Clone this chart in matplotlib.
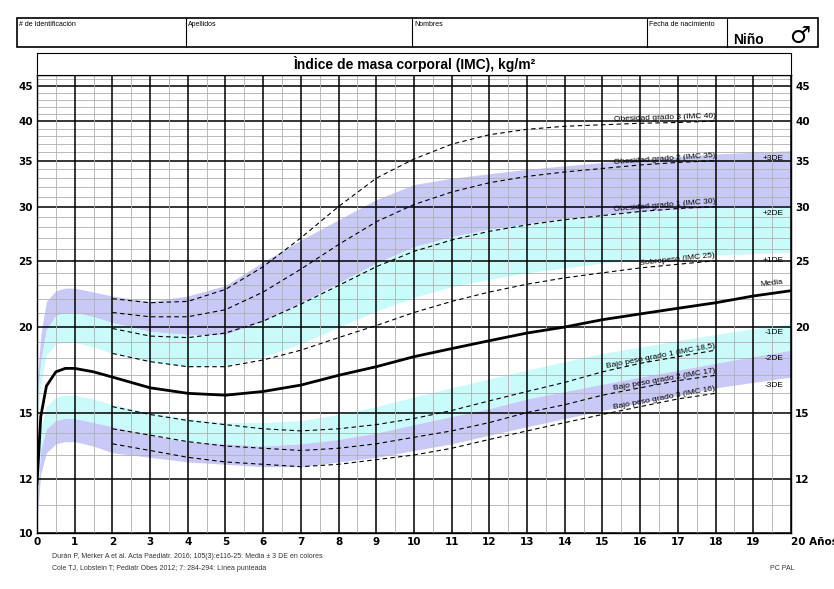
import numpy as np
import matplotlib
matplotlib.use("Agg")
import matplotlib.pyplot as plt
from matplotlib.patches import Rectangle
from matplotlib.ticker import NullFormatter, FixedLocator

# ---- data ----
ages = [0, 0.1, 0.25, 0.5, 0.75, 1, 1.5, 2, 3, 4, 5, 6, 7, 8, 9, 10, 11, 12, 13, 14, 15, 16, 17, 18, 19, 20]
median = [11.8, 14.8, 16.4, 17.2, 17.4, 17.4, 17.2, 16.9, 16.3, 16.0, 15.9, 16.1, 16.45, 17.0, 17.5, 18.1, 18.6, 19.1, 19.6, 20.0, 20.5, 20.9, 21.3, 21.7, 22.2, 22.6]
sd_p3 = [16.5, 19.5, 21.8, 22.6, 22.8, 22.8, 22.5, 22.2, 21.8, 22.2, 23.0, 24.9, 26.8, 28.7, 30.7, 32.3, 33.0, 33.5, 34.0, 34.4, 34.8, 35.2, 35.5, 35.8, 36.0, 36.2]
sd_p2 = [15.5, 17.8, 19.8, 20.8, 21.0, 21.0, 20.7, 20.3, 19.7, 19.5, 19.5, 20.4, 21.7, 23.2, 24.8, 26.2, 27.1, 27.8, 28.3, 28.8, 29.2, 29.5, 29.7, 29.9, 30.0, 30.1]
sd_p1 = [14.5, 16.5, 18.2, 18.9, 19.0, 19.0, 18.7, 18.3, 17.8, 17.5, 17.6, 18.1, 18.9, 20.0, 21.1, 22.1, 22.9, 23.5, 24.0, 24.4, 24.8, 25.1, 25.3, 25.5, 25.6, 25.7]
sd_m1 = [12.2, 14.2, 15.3, 15.8, 15.9, 15.9, 15.7, 15.4, 15.0, 14.7, 14.5, 14.5, 14.6, 14.9, 15.3, 15.8, 16.3, 16.8, 17.3, 17.8, 18.3, 18.7, 19.1, 19.5, 19.9, 20.2]
sd_m2 = [11.2, 13.2, 14.2, 14.6, 14.7, 14.7, 14.5, 14.3, 13.9, 13.6, 13.5, 13.4, 13.5, 13.7, 14.0, 14.4, 14.8, 15.2, 15.7, 16.1, 16.5, 16.9, 17.3, 17.7, 18.1, 18.5]
sd_m3 = [10.5, 12.2, 13.1, 13.5, 13.6, 13.6, 13.4, 13.1, 12.9, 12.7, 12.6, 12.5, 12.5, 12.7, 12.9, 13.2, 13.5, 13.9, 14.3, 14.7, 15.1, 15.5, 15.9, 16.3, 16.6, 16.9]

cole_ages = [2, 3, 4, 5, 6, 7, 8, 9, 10, 11, 12, 13, 14, 15, 16, 17, 18]
cole = {
    "Obesidad grado 3 (IMC 40)": [22.0, 21.7, 21.8, 22.7, 24.5, 27.0, 30.0, 33.0, 35.2, 37.0, 38.2, 38.9, 39.3, 39.5, 39.7, 39.8, 40.0],
    "Obesidad grado 2 (IMC 35)": [21.0, 20.7, 20.7, 21.2, 22.5, 24.3, 26.4, 28.5, 30.2, 31.5, 32.5, 33.2, 33.7, 34.1, 34.5, 34.8, 35.0],
    "Obesidad grado 1 (IMC 30)": [19.9, 19.4, 19.3, 19.6, 20.4, 21.6, 23.0, 24.5, 25.8, 26.8, 27.6, 28.2, 28.7, 29.1, 29.5, 29.8, 30.0],
    "Sobrepeso (IMC 25)": [18.3, 17.8, 17.5, 17.5, 17.9, 18.5, 19.3, 20.1, 21.0, 21.8, 22.5, 23.1, 23.6, 24.0, 24.4, 24.7, 25.0],
    "Bajo peso grado 1 (IMC 18,5)": [15.3, 14.9, 14.6, 14.4, 14.2, 14.1, 14.2, 14.4, 14.7, 15.1, 15.6, 16.1, 16.6, 17.2, 17.7, 18.1, 18.5],
    "Bajo peso grado 2 (IMC 17)": [14.2, 13.9, 13.6, 13.4, 13.3, 13.2, 13.3, 13.5, 13.8, 14.1, 14.5, 15.0, 15.4, 15.9, 16.3, 16.7, 17.0],
    "Bajo peso grado 3 (IMC 16)": [13.5, 13.2, 12.9, 12.7, 12.6, 12.5, 12.6, 12.8, 13.0, 13.3, 13.7, 14.1, 14.5, 14.9, 15.3, 15.7, 16.0],
}
y_major = [10, 12, 15, 20, 25, 30, 35, 40, 45]
x_ticks = list(range(0, 21))

PURPLE = "#c9c9f7"
CYAN = "#c9fbfb"

W, H = 834, 589
fig = plt.figure(figsize=(W / 100, H / 100), dpi=100)

def fx(px): return px / W
def fy(py): return 1 - py / H

ax = fig.add_axes([fx(37), fy(533), fx(791) - fx(37), fy(75) - fy(533)])
ax.set_yscale("log")
ax.set_xlim(0, 20)
ax.set_ylim(10, 46.7)

ax.fill_between(ages, sd_p2, sd_p3, color=PURPLE, lw=0, zorder=1)
ax.fill_between(ages, sd_p1, sd_p2, color=CYAN, lw=0, zorder=1)
ax.fill_between(ages, sd_m2, sd_m1, color=CYAN, lw=0, zorder=1)
ax.fill_between(ages, sd_m3, sd_m2, color=PURPLE, lw=0, zorder=1)

for v in range(11, 47):
    if v not in y_major:
        ax.axhline(v, color="#b0b0b0", lw=0.6, zorder=2)
for v in y_major:
    ax.axhline(v, color="black", lw=1.1, zorder=2)
for x in np.arange(0.5, 20, 1.0):
    ax.axvline(x, color="#b0b0b0", lw=0.6, zorder=2)
for x in x_ticks:
    ax.axvline(x, color="black", lw=1.1, zorder=2)

ax.plot(ages, median, color="black", lw=2, zorder=4)
for name, vals in cole.items():
    ax.plot(cole_ages, vals, color="black", lw=0.8, ls=(0, (4, 3)), zorder=3)
    x0, x1 = 15, 18
    y0, y1 = vals[-4], vals[-1]
    p0 = ax.transData.transform((x0, y0)); p1 = ax.transData.transform((x1, y1))
    ang = np.degrees(np.arctan2(p1[1] - p0[1], p1[0] - p0[0]))
    ax.text(18, y1 * 1.005, name, fontsize=6, ha="right", va="bottom",
            rotation=ang, rotation_mode="anchor", zorder=5, family="Liberation Sans")

ax.text(19.8, median[-1] * 1.01, "Media", fontsize=6, ha="right", va="bottom", rotation=6, family="Liberation Sans")
for lab, arr in [("+3DE", sd_p3), ("+2DE", sd_p2), ("+1DE", sd_p1), ("-1DE", sd_m1), ("-2DE", sd_m2), ("-3DE", sd_m3)]:
    ax.text(19.8, arr[-1] * 0.985, lab, fontsize=6, ha="right", va="top", family="Liberation Sans", zorder=5)

ax.yaxis.set_major_locator(FixedLocator(y_major))
ax.yaxis.set_minor_locator(FixedLocator([]))
ax.yaxis.set_minor_formatter(NullFormatter())
ax.set_yticklabels([str(v) for v in y_major])
ax.set_xticks(x_ticks)
ax.set_xticklabels([str(v) if v < 20 else "20 Años" for v in x_ticks])
ax.tick_params(axis="both", length=0, labelsize=7.5, pad=3)
ax.tick_params(axis="y", labelleft=True, labelright=True)
fig.canvas.draw()
ax.yaxis.get_major_ticks()[0].label2.set_visible(False)
for t in ax.get_xticklabels() + ax.get_yticklabels():
    t.set_fontweight("bold")
for t in ax.yaxis.get_majorticklabels(which="both") if False else []:
    pass
for tk in ax.yaxis.get_major_ticks():
    tk.label2.set_fontweight("bold")
xt = ax.get_xticklabels()
xt[-1].set_horizontalalignment("left")
ax.xaxis.get_major_ticks()[-1].label1.set_horizontalalignment("left")
ax.xaxis.get_major_ticks()[-1].label1.set_x(19.9)
for s in ax.spines.values():
    s.set_linewidth(1.0)

tax = fig.add_axes([fx(37), fy(75), fx(791) - fx(37), fy(53) - fy(75)])
tax.set_xticks([]); tax.set_yticks([])
tax.text(0.5, 0.5, "Ìndice de masa corporal (IMC), kg/m²", ha="center", va="center",
         fontsize=10, fontweight="bold", family="Liberation Sans")

hax = fig.add_axes([0, 0, 1, 1], zorder=-1)
hax.set_xlim(0, W); hax.set_ylim(H, 0); hax.axis("off")
hax.add_patch(Rectangle((17, 18), 818 - 17, 29, fill=False, lw=1.2, ec="black"))
for xs in [186, 412, 647, 727]:
    hax.plot([xs, xs], [18, 47], color="black", lw=0.8)
for xs, t in [(19, "# de Identificación"), (188, "Apellidos"), (414, "Nombres"), (649, "Fecha de nacimiento")]:
    hax.text(xs, 21, t, fontsize=5, va="top", family="Liberation Sans")
hax.text(733, 40, "Niño", fontsize=10, fontweight="bold", va="center", family="Liberation Sans")
hax.text(800, 36, "♂", fontsize=17, va="center", ha="center", family="DejaVu Sans")
hax.text(52, 557, "Durán P, Merker A et al. Acta Paediatr. 2016; 105(3):e116-25: Media ± 3 DE en colores",
         fontsize=5, va="center", family="Liberation Sans", color="#333333")
hax.text(52, 568, "Cole TJ, Lobstein T; Pediatr Obes 2012; 7: 284-294: Línea punteada",
         fontsize=5, va="center", family="Liberation Sans", color="#333333")
hax.text(770, 568, "PC PAL", fontsize=5, va="center", family="Liberation Sans", color="#333333")

fig.savefig("out.png", dpi=100)
